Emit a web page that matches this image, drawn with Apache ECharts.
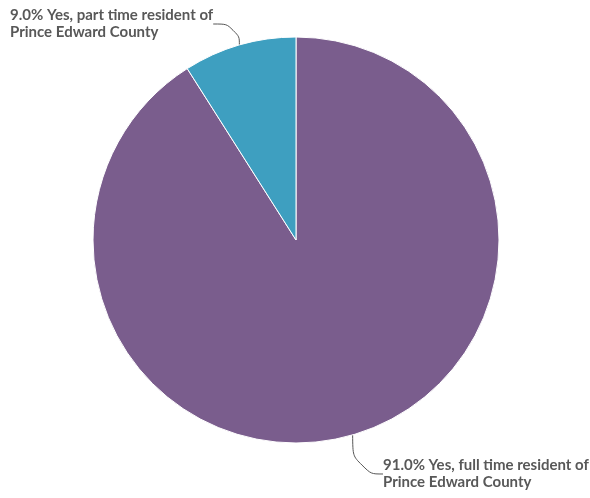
<!DOCTYPE html>
<html><head><meta charset="utf-8">
<script src="https://cdn.jsdelivr.net/npm/echarts@6/dist/echarts.min.js"></script>
<style>html,body{margin:0;padding:0;background:#fff}#c{width:590px;height:498px}</style>
</head><body><div id="c"></div>
<script>
const categories = ['Yes, full time resident of\nPrince Edward County', 'Yes, part time resident of\nPrince Edward County'];
const values = [91.0, 9.0];
const colors = ['#7a5d8d', '#3e9fc0'];

const chart = echarts.init(document.getElementById('c'));
chart.setOption({
  animation: false,
  series: [{
    type: 'pie',
    left: 0, top: 0, width: 900, height: 498,
    center: [296, 240],
    radius: 203,
    startAngle: 90,
    clockwise: true,
    data: categories.map((n, i) => ({ name: n, value: values[i], itemStyle: { color: colors[i] } })),
    itemStyle: { borderColor: '#fff', borderWidth: 1 },
    label: {
      show: true,
      formatter: p => p.value.toFixed(1) + '% ' + p.name,
      fontFamily: 'Lato',
      fontWeight: 'bold',
      fontSize: 15,
      lineHeight: 17,
      color: '#585858',
      overflow: 'none'
    },
    labelLine: { show: true, smooth: 0.6, lineStyle: { color: '#555', width: 1 } },
    labelLayout: function (p) {
      if (p.dataIndex === 1) return { x: 10, y: 7, align: 'left', verticalAlign: 'top' };
      return { x: 383, y: 457, align: 'left', verticalAlign: 'top' };
    }
  }]
});
</script></body></html>
